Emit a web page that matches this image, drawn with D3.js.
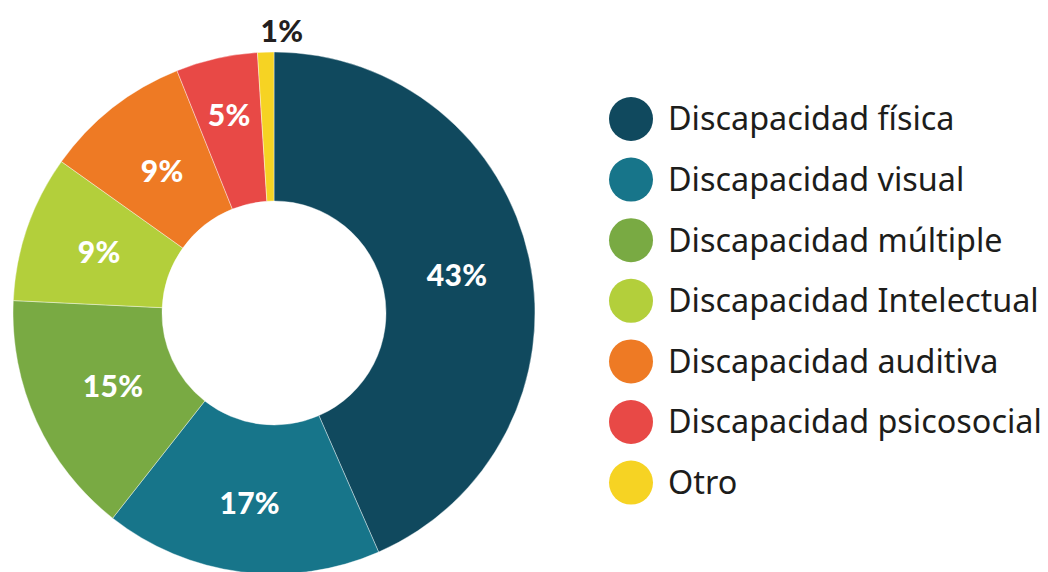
<!DOCTYPE html>
<html><head><meta charset="utf-8">
<script src="https://cdn.jsdelivr.net/npm/d3@7"></script>
<style>html,body{margin:0;padding:0;background:#fff;}svg{display:block;}</style>
</head><body>
<svg id="chart" width="1048" height="572"></svg>
<script>
const categories = ["Discapacidad física","Discapacidad visual","Discapacidad múltiple","Discapacidad Intelectual","Discapacidad auditiva","Discapacidad psicosocial","Otro"];
const values = [43,17,15,9,9,5,1];
const labels = ["43%","17%","15%","9%","9%","5%","1%"];
const colors = ["#10495e","#17758a","#79aa43","#b3cf3b","#ee7a24","#e84946","#f6d323"];

// label placement radii (layout, not data)
const labelRadii = [187, 192, 177, 185, 181, 203, 282];

const svg = d3.select("#chart");
const cx = 274, cy = 313, rOuter = 261, rInner = 112;
const data = categories.map((c,i)=>({cat:c, value:values[i], label:labels[i], color:colors[i]}));
const pie = d3.pie().value(d=>d.value).sort(null);
const arcs = pie(data);
const arc = d3.arc().innerRadius(rInner).outerRadius(rOuter);
const g = svg.append("g").attr("transform",`translate(${cx},${cy})`);
g.selectAll("path").data(arcs).join("path")
  .attr("d",arc).attr("fill",d=>d.data.color)
  .attr("stroke","#fff").attr("stroke-width",0.4);

g.selectAll("text.lbl").data(arcs).join("text")
  .attr("class","lbl")
  .attr("transform",(d,i)=>{
    if(d.data.value < 3){
      return `translate(${8},${-labelRadii[i]})`;
    }
    const a = (d.startAngle + d.endAngle)/2;
    const r = labelRadii[i];
    return `translate(${r*Math.sin(a)},${-r*Math.cos(a)})`;
  })
  .attr("text-anchor","middle").attr("dy","0.36em")
  .attr("font-family","Lato, 'Open Sans', sans-serif").attr("font-weight",900)
  .attr("font-size",30).attr("letter-spacing",0.3)
  .attr("fill",d=>d.data.value < 3 ? "#231f20" : "#fff")
  .text(d=>d.data.label);

const lx = 631, ly0 = 119, lstep = 60.6;
const leg = svg.append("g");
const rows = leg.selectAll("g").data(data).join("g")
  .attr("transform",(d,i)=>`translate(${lx},${ly0+i*lstep})`);
rows.append("circle").attr("r",22).attr("fill",d=>d.color);
rows.append("text").attr("x",37).attr("dy","0.35em")
  .attr("font-family","'Noto Sans', sans-serif").attr("font-size",28)
  .attr("fill","#1d1d1b").text(d=>d.cat);
const texts = rows.selectAll("text").nodes();
const maxW = d3.max(texts, t=>t.getComputedTextLength());
const fs = 28 * 374 / maxW;
rows.selectAll("text").attr("font-size", fs);
</script>
</body></html>
